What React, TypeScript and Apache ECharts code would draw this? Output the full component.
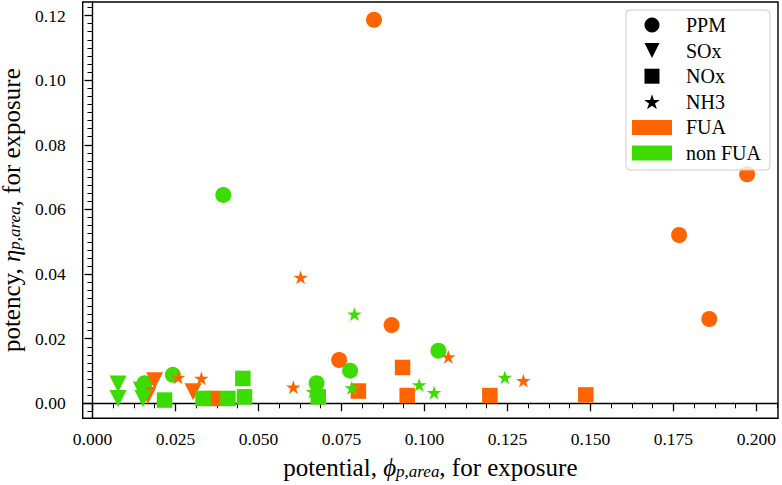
import React, { useEffect, useRef } from "react";
import * as echarts from "echarts";

// ---- data (x = potential, y = potency) ----
const ppmFua = [[0.0848, 0.1187], [0.1972, 0.0709], [0.1767, 0.0521], [0.1858, 0.0261], [0.0901, 0.0242], [0.0743, 0.0134]];
const ppmNonFua = [[0.0394, 0.0645], [0.1042, 0.0163], [0.0776, 0.0101], [0.0675, 0.0062], [0.0242, 0.0088], [0.0157, 0.0062]];
const soxFua = [[0.0187, 0.0070], [0.0167, 0.0024], [0.0303, 0.0036]];
const soxNonFua = [[0.0077, 0.0060], [0.0077, 0.0015], [0.0147, 0.0041], [0.0152, 0.0015]];
const noxFua = [[0.0801, 0.0038], [0.0934, 0.0111], [0.0948, 0.0024], [0.1197, 0.0024], [0.1486, 0.0026], [0.0363, 0.0015]];
const noxNonFua = [[0.0217, 0.0010], [0.0333, 0.0015], [0.0408, 0.0015], [0.0453, 0.0077], [0.0458, 0.0020], [0.0680, 0.0020]];
const nh3Fua = [[0.0627, 0.0390], [0.0605, 0.0050], [0.1072, 0.0144], [0.1298, 0.0070], [0.0258, 0.0080], [0.0328, 0.0077]];
const nh3NonFua = [[0.0789, 0.0276], [0.0781, 0.0048], [0.0984, 0.0057], [0.1029, 0.0033], [0.1242, 0.0080], [0.0664, 0.0036]];

const xMajorTicks = [0, 0.025, 0.05, 0.075, 0.1, 0.125, 0.15, 0.175, 0.2];
const yMajorTicks = [0, 0.02, 0.04, 0.06, 0.08, 0.1, 0.12];
const legendNames = ["PPM", "SOx", "NOx", "NH3", "FUA", "non FUA"];

const X_MIN = -0.00295;
const X_MAX = 0.2065;
const Y_MIN = -0.00464;
const Y_MAX = 0.1242;

const FUA_COLOR = "#ff6400";
const NONFUA_COLOR = "#3cdc00";
const FONT = "Liberation Serif";
const TITLE_SIZE = 25;

const STAR = "path://M100,0L122.45,69.1L195.11,69.1L136.33,111.8L158.78,180.9L100,138.2L41.22,180.9L63.67,111.8L4.89,69.1L77.55,69.1Z";
const TRI_DOWN = "path://M0,0L20,0L10,20Z";
const SQUARE = "path://M0,0L10,0L10,10L0,10Z";

function minorTicks(step: number, lo: number, hi: number, major: number) {
  const out: number[] = [];
  for (let i = Math.ceil(lo / step); i * step <= hi + 1e-12; i++) {
    const v = +(i * step).toFixed(6);
    const r = v / major;
    if (Math.abs(r - Math.round(r)) > 1e-6) out.push(v);
  }
  return out;
}

export default function App() {
  const ref = useRef<HTMLDivElement>(null);
  useEffect(() => {
    if (!ref.current) return;
    const chart = echarts.init(ref.current, undefined, { renderer: "svg" });
    const xMinor = minorTicks(0.00625, X_MIN, X_MAX, 0.025);
    const yMinor = minorTicks(0.0025, Y_MIN, Y_MAX, 0.02);

    const mk = (data: number[][], symbol: string, size: any, color: string) => ({
      type: "scatter",
      data,
      symbol,
      symbolSize: size,
      itemStyle: { color, opacity: 1 },
      emphasis: { disabled: true },
      silent: true,
    });
    const CIRC = 16;
    const TRI = [17, 17];
    const SQ = 15.5;
    const ST = [14.5, 13.8];

    const richName = {
      it: { fontStyle: "italic", fontFamily: FONT, fontSize: TITLE_SIZE, color: "#000" },
      sub: { fontStyle: "italic", fontFamily: FONT, fontSize: 17, lineHeight: 14, verticalAlign: "bottom", color: "#000" },
    };

    const option: any = {
      animation: false,
      grid: {
        left: 82.7,
        right: 4,
        top: 2,
        bottom: 66.7,
        containLabel: false,
        outerBoundsMode: "none",
        show: true,
        borderColor: "#000",
        borderWidth: 1.4,
        backgroundColor: "transparent",
      },
      xAxis: [
        {
          type: "value",
          min: X_MIN,
          max: X_MAX,
          splitLine: { show: false },
          axisLine: { show: true, lineStyle: { color: "#000", width: 1.4 } },
          axisTick: { show: true, customValues: xMajorTicks, length: 8, lineStyle: { color: "#000", width: 1.3 } },
          axisLabel: {
            customValues: xMajorTicks,
            formatter: (v: number) => v.toFixed(3),
            fontFamily: FONT,
            fontSize: 17.5,
            color: "#000",
            margin: 12,
          },
          name: "potential, {it|ϕ}{sub|p,area}, for exposure",
          nameLocation: "middle",
          nameGap: 36,
          nameMoveOverlap: false,
          nameTextStyle: { fontFamily: FONT, fontSize: TITLE_SIZE, color: "#000", lineHeight: 26, rich: richName },
        },
        {
          type: "value",
          min: X_MIN,
          max: X_MAX,
          position: "bottom",
          offset: 0,
          splitLine: { show: false },
          axisLine: { show: false },
          axisTick: { show: true, customValues: xMinor, length: 5, lineStyle: { color: "#000", width: 1 } },
          axisLabel: { show: false },
        },
      ],
      yAxis: [
        {
          type: "value",
          min: Y_MIN,
          max: Y_MAX,
          splitLine: { show: false },
          axisLine: { show: true, lineStyle: { color: "#000", width: 1.4 } },
          axisTick: { show: true, customValues: yMajorTicks, length: 8, lineStyle: { color: "#000", width: 1.3 } },
          axisLabel: {
            customValues: yMajorTicks,
            formatter: (v: number) => v.toFixed(2),
            fontFamily: FONT,
            fontSize: 17.5,
            color: "#000",
            margin: 17,
          },
          name: "potency, {it|η}{sub|p,area}, for exposure",
          nameLocation: "middle",
          nameGap: 54,
          nameRotate: 90,
          nameTextStyle: { fontFamily: FONT, fontSize: TITLE_SIZE, color: "#000", lineHeight: 22, rich: richName },
        },
        {
          type: "value",
          min: Y_MIN,
          max: Y_MAX,
          position: "left",
          offset: 0,
          splitLine: { show: false },
          axisLine: { show: false },
          axisTick: { show: true, customValues: yMinor, length: 5, lineStyle: { color: "#000", width: 1 } },
          axisLabel: { show: false },
        },
      ],
      legend: {
        data: [
          { name: "PPM", icon: "circle" },
          { name: "SOx", icon: TRI_DOWN },
          { name: "NOx", icon: SQUARE },
          { name: "NH3", icon: STAR },
          { name: "FUA", icon: "rect" },
          { name: "non FUA", icon: "rect" },
        ],
        orient: "vertical",
        right: 12,
        top: 10,
        itemWidth: 40,
        itemHeight: 15,
        itemGap: 5.6,
        padding: [5, 9, 7, 6],
        borderColor: "#cccccc",
        borderWidth: 1,
        borderRadius: 4,
        backgroundColor: "rgba(255,255,255,0.8)",
        selectedMode: false,
        textStyle: { fontFamily: FONT, fontSize: 20, lineHeight: 20, color: "#000", padding: [0, 0, 0, 9] },
      },
      series: [
        { ...mk(ppmFua, "circle", CIRC, FUA_COLOR), name: "_ppmFua" },
        { ...mk(ppmNonFua, "circle", CIRC, NONFUA_COLOR), name: "_ppmNon" },
        { ...mk(soxFua, TRI_DOWN, TRI, FUA_COLOR), name: "_soxFua" },
        { ...mk(soxNonFua, TRI_DOWN, TRI, NONFUA_COLOR), name: "_soxNon" },
        { ...mk(noxFua, SQUARE, SQ, FUA_COLOR), name: "_noxFua" },
        { ...mk(noxNonFua, SQUARE, SQ, NONFUA_COLOR), name: "_noxNon" },
        { ...mk(nh3Fua, STAR, ST, FUA_COLOR), name: "_nh3Fua" },
        { ...mk(nh3NonFua, STAR, ST, NONFUA_COLOR), name: "_nh3Non" },
        { ...mk([], "circle", CIRC, "#000"), name: legendNames[0] },
        { ...mk([], TRI_DOWN, TRI, "#000"), name: legendNames[1] },
        { ...mk([], SQUARE, SQ, "#000"), name: legendNames[2] },
        { ...mk([], STAR, ST, "#000"), name: legendNames[3] },
        { ...mk([], "rect", SQ, FUA_COLOR), name: legendNames[4] },
        { ...mk([], "rect", SQ, NONFUA_COLOR), name: legendNames[5] },
      ],
    };
    chart.setOption(option);
    return () => chart.dispose();
  }, []);
  return <div ref={ref} style={{ position: "absolute", left: 0, top: 0, width: 782, height: 485 }} />;
}
